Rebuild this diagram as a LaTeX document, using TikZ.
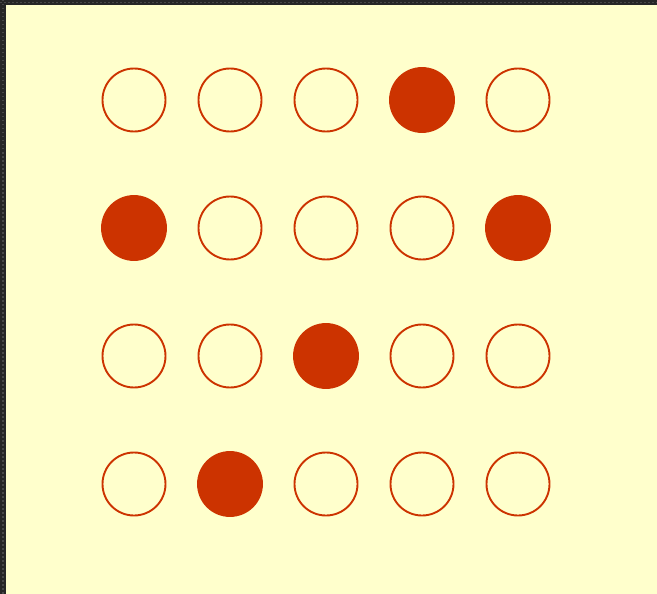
\documentclass[tikz,border=0pt]{standalone}
\usepackage{xcolor}
\usepackage{tikz}
\usetikzlibrary{positioning}
\definecolor{paleyellow}{RGB}{255, 255, 204}
\definecolor{rustred}{RGB}{204, 51, 0}
\definecolor{frameblack}{RGB}{38, 38, 38}
\definecolor{framegray}{RGB}{72, 72, 72}

\begin{document}
\begin{tikzpicture}[
    x=1pt, y=-1pt,
    dot/.style={circle, draw=rustred, line width=1.9pt, minimum size=63pt, inner sep=0pt},
    hit/.style={dot, fill=rustred, minimum size=64pt}
]
    % Background and frame
    \useasboundingbox (0,0) rectangle (657,594);
    \fill[paleyellow] (0,0) rectangle (657,594);
    \fill[frameblack] (0,0) rectangle (6,594);
    \fill[frameblack] (0,0) rectangle (657,5);
    \draw[framegray, line width=1.5pt, dash pattern=on 1.5pt off 2.5pt] (3,0) -- (3,594);
    \draw[framegray, line width=1.5pt, dash pattern=on 1.5pt off 2.5pt] (0,2.5) -- (657,2.5);

    % Row 1
    \node[dot] (a1) at (134,100) {};
    \node[dot] (a2) at (230,100) {};
    \node[dot] (a3) at (326,100) {};
    \node[hit] (a4) at (422,100) {};
    \node[dot] (a5) at (518,100) {};

    % Row 2
    \node[hit] (b1) at (134,228) {};
    \node[dot] (b2) at (230,228) {};
    \node[dot] (b3) at (326,228) {};
    \node[dot] (b4) at (422,228) {};
    \node[hit] (b5) at (518,228) {};

    % Row 3
    \node[dot] (c1) at (134,356) {};
    \node[dot] (c2) at (230,356) {};
    \node[hit] (c3) at (326,356) {};
    \node[dot] (c4) at (422,356) {};
    \node[dot] (c5) at (518,356) {};

    % Row 4
    \node[dot] (d1) at (134,484) {};
    \node[hit] (d2) at (230,484) {};
    \node[dot] (d3) at (326,484) {};
    \node[dot] (d4) at (422,484) {};
    \node[dot] (d5) at (518,484) {};
\end{tikzpicture}
\end{document}
